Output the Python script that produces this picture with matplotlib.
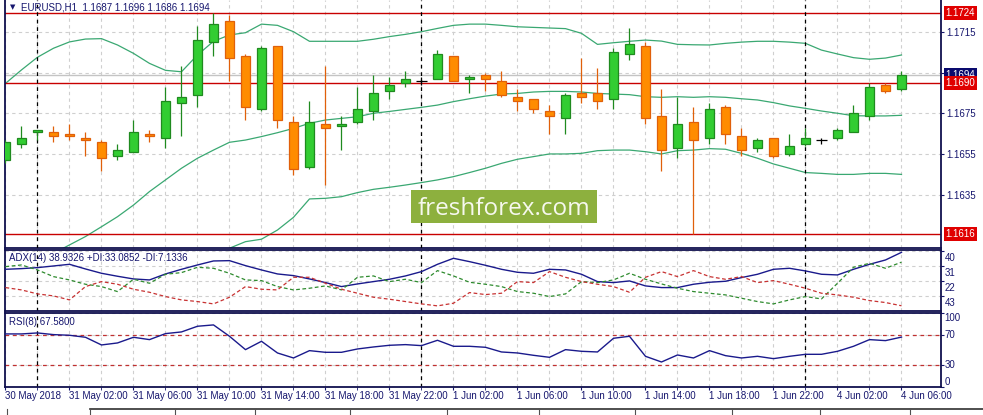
import matplotlib.pyplot as plt
import numpy as np
from matplotlib.patches import Rectangle
from matplotlib.lines import Line2D

plt.rcParams['font.family'] = ['Liberation Sans', 'DejaVu Sans']

symbol = "EURUSD"
timeframe = "H1"

# one label every 4 hourly bars, first bar is 30 May 22:00
time_labels = ["30 May 2018", "31 May 02:00", "31 May 06:00", "31 May 10:00", "31 May 14:00",
               "31 May 18:00", "31 May 22:00", "1 Jun 02:00", "1 Jun 06:00", "1 Jun 10:00",
               "1 Jun 14:00", "1 Jun 18:00", "1 Jun 22:00", "4 Jun 02:00", "4 Jun 06:00"]
day_start_bars = [2, 26, 50]

open_ = [1.1652, 1.1660, 1.1666, 1.1666, 1.1665, 1.1663, 1.1661, 1.1654, 1.1656, 1.1665,
         1.1663, 1.1680, 1.1684, 1.1710, 1.1720, 1.1703, 1.1677, 1.1708, 1.1671, 1.1649,
         1.1670, 1.1669, 1.1671, 1.1676, 1.1686, 1.1690, 1.1691, 1.1692, 1.1703, 1.1692,
         1.1694, 1.1691, 1.1683, 1.1682, 1.1676, 1.1673, 1.1685, 1.1685, 1.1682, 1.1704,
         1.1708, 1.1674, 1.1658, 1.1671, 1.1663, 1.1678, 1.1664, 1.1658, 1.1663, 1.1655,
         1.1660, 1.1662, 1.1663, 1.1666, 1.1674, 1.1689, 1.1687]
high = [1.1662, 1.1669, 1.1667, 1.1669, 1.1670, 1.1666, 1.1662, 1.1660, 1.1672, 1.1667,
        1.1688, 1.1698, 1.1718, 1.1724, 1.1723, 1.1704, 1.1708, 1.1708, 1.1674, 1.1681,
        1.1698, 1.1674, 1.1688, 1.1694, 1.1693, 1.1696, 1.1693, 1.1706, 1.1703, 1.1694,
        1.1695, 1.1696, 1.1687, 1.1682, 1.1679, 1.1685, 1.1702, 1.1697, 1.1707, 1.1717,
        1.1710, 1.1687, 1.1683, 1.1678, 1.1680, 1.1679, 1.1668, 1.1663, 1.1663, 1.1665,
        1.1668, 1.1663, 1.1668, 1.1679, 1.1690, 1.1690, 1.1696]
low = [1.1651, 1.1658, 1.1662, 1.1661, 1.1662, 1.1654, 1.1647, 1.1652, 1.1656, 1.1661,
       1.1658, 1.1664, 1.1678, 1.1703, 1.1691, 1.1672, 1.1676, 1.1668, 1.1645, 1.1648,
       1.1640, 1.1657, 1.1670, 1.1672, 1.1682, 1.1688, 1.1689, 1.1692, 1.1691, 1.1685,
       1.1686, 1.1683, 1.1676, 1.1675, 1.1665, 1.1665, 1.1680, 1.1677, 1.1677, 1.1701,
       1.1670, 1.1647, 1.1653, 1.1616, 1.1660, 1.1660, 1.1654, 1.1656, 1.1653, 1.1654,
       1.1659, 1.1660, 1.1662, 1.1666, 1.1672, 1.1685, 1.1686]
close = [1.1661, 1.1663, 1.1667, 1.1664, 1.1664, 1.1662, 1.1653, 1.1657, 1.1666, 1.1664,
         1.1681, 1.1683, 1.1711, 1.1719, 1.1702, 1.1678, 1.1707, 1.1672, 1.1648, 1.1671,
         1.1668, 1.1670, 1.1677, 1.1685, 1.1689, 1.1692, 1.1691, 1.1704, 1.1691, 1.1693,
         1.1692, 1.1684, 1.1681, 1.1677, 1.1674, 1.1684, 1.1683, 1.1681, 1.1705, 1.1709,
         1.1673, 1.1657, 1.1670, 1.1662, 1.1677, 1.1665, 1.1657, 1.1662, 1.1654, 1.1659,
         1.1663, 1.1662, 1.1667, 1.1675, 1.1688, 1.1686, 1.1694]

# Bollinger bands
bb_upper = [1.16897, 1.16963, 1.17025, 1.17069, 1.17100, 1.17114, 1.17116, 1.17085, 1.17044, 1.16995,
            1.16961, 1.16954, 1.17036, 1.17103, 1.17134, 1.17145, 1.17187, 1.17181, 1.17150, 1.17103,
            1.17103, 1.17103, 1.17103, 1.17113, 1.17126, 1.17137, 1.17150, 1.17166, 1.17181, 1.17187,
            1.17187, 1.17181, 1.17174, 1.17171, 1.17168, 1.17165, 1.17142, 1.17088, 1.17096, 1.17103,
            1.17109, 1.17104, 1.17088, 1.17086, 1.17085, 1.17093, 1.17099, 1.17103, 1.17103, 1.17099,
            1.17093, 1.17060, 1.17041, 1.17023, 1.17015, 1.17021, 1.17036]
bb_middle = [1.15944, 1.15985, 1.16025, 1.16066, 1.16107, 1.16148, 1.16196, 1.16245, 1.16302, 1.16368,
             1.16425, 1.16482, 1.16531, 1.16571, 1.16609, 1.16620, 1.16637, 1.16656, 1.16677, 1.16702,
             1.16718, 1.16726, 1.16734, 1.16751, 1.16760, 1.16770, 1.16780, 1.16791, 1.16808, 1.16822,
             1.16835, 1.16845, 1.16848, 1.16855, 1.16858, 1.16858, 1.16855, 1.16848, 1.16845, 1.16842,
             1.16832, 1.16829, 1.16832, 1.16829, 1.16832, 1.16829, 1.16822, 1.16816, 1.16803, 1.16787,
             1.16775, 1.16762, 1.16751, 1.16739, 1.16738, 1.16738, 1.16741]
bb_lower = [1.1499, 1.1501, 1.1503, 1.1506, 1.1511, 1.1518, 1.1528, 1.1540, 1.1556, 1.1574,
            1.1589, 1.1601, 1.1603, 1.1604, 1.16091, 1.16123, 1.16135, 1.16180, 1.16242, 1.16332,
            1.16335, 1.16343, 1.16363, 1.16379, 1.16389, 1.16400, 1.16412, 1.16425, 1.16441, 1.16461,
            1.16482, 1.16506, 1.16526, 1.16539, 1.16552, 1.16552, 1.16555, 1.16568, 1.16571, 1.16571,
            1.16563, 1.16552, 1.16568, 1.16571, 1.16578, 1.16575, 1.16555, 1.16531, 1.16503, 1.16482,
            1.16461, 1.16457, 1.16452, 1.16452, 1.16457, 1.16457, 1.16452]

levels = [1.1724, 1.1690, 1.1616]

adx = [28.84, 29.24, 29.83, 30.82, 31.81, 29.04, 26.47, 24.70, 23.10, 22.51,
       26.07, 28.84, 31.42, 33.80, 33.99, 31.02, 28.45, 26.07, 25.08, 23.10,
       20.93, 18.55, 20.13, 21.52, 22.91, 24.89, 27.46, 31.81, 35.38, 33.40,
       31.22, 28.84, 27.06, 26.47, 28.84, 28.45, 25.88, 21.52, 20.93, 21.92,
       18.95, 17.96, 17.96, 19.94, 21.12, 21.72, 23.90, 25.88, 28.84, 29.44,
       27.86, 25.88, 25.48, 28.84, 31.81, 34.39, 38.9326]
plus_di = [30.43, 31.42, 28.45, 24.49, 22.51, 19.94, 18.55, 15.58, 22.91, 20.53,
           25.88, 26.87, 30.03, 29.44, 26.47, 22.51, 22.11, 18.55, 16.57, 17.56,
           18.95, 16.57, 24.09, 24.89, 21.52, 22.91, 20.93, 28.05, 24.89, 21.12,
           19.94, 18.55, 15.58, 14.59, 12.61, 14.19, 21.52, 20.93, 22.51, 26.47,
           22.91, 20.13, 17.56, 15.58, 14.59, 13.60, 11.62, 9.64, 8.25, 10.63,
           12.61, 11.22, 20.53, 30.03, 32.41, 29.44, 33.0852]
minus_di = [17.96, 16.57, 14.19, 13.00, 10.63, 18.55, 21.52, 19.94, 16.97, 15.18,
            12.61, 10.63, 9.64, 8.25, 12.21, 18.55, 16.97, 16.57, 24.09, 24.09,
            20.53, 16.97, 14.59, 12.21, 11.03, 9.64, 8.25, 7.07, 8.65, 14.99,
            13.80, 14.59, 21.52, 20.93, 27.46, 24.09, 21.52, 19.94, 18.55, 15.18,
            24.09, 27.46, 24.49, 28.05, 24.49, 22.91, 24.49, 20.93, 22.11, 19.94,
            17.56, 14.59, 13.60, 12.21, 10.23, 9.05, 7.1336]
rsi = [71.90, 71.90, 73.25, 70.97, 70.07, 67.34, 56.87, 59.60, 67.34, 64.15,
       72.34, 74.62, 82.35, 84.17, 68.70, 50.50, 61.88, 45.95, 39.13, 49.14,
       46.86, 46.86, 51.41, 54.14, 56.42, 57.33, 55.96, 63.24, 55.05, 55.05,
       53.69, 47.32, 45.95, 42.77, 40.03, 50.50, 48.23, 47.32, 65.97, 68.70,
       41.40, 33.67, 43.22, 39.13, 49.14, 42.31, 39.13, 41.40, 38.22, 41.40,
       44.13, 44.13, 48.23, 55.05, 64.15, 62.78, 67.58]

price_ticks = [1.1715, 1.1695, 1.1675, 1.1655, 1.1635]
adx_ticks = [40, 31, 22, 13]
adx_tick_text = ["40", "31", "22", "43"]
rsi_ticks = [100, 70, 30, 0]

navy = '#16166e'
green, green_dk = '#32cd32', '#1f8a1f'
orange, orange_dk = '#ff8c00', '#e0600a'
band_col = '#3aa872'
red = '#c80000'
grid_kw = dict(color='#cfcfcf', linestyle=(0, (3, 3)), linewidth=0.8)

W, H = 983, 415
fig = plt.figure(figsize=(W / 100, H / 100), dpi=100)


def rect(left, top, right, bottom):
    return [left / W, 1 - bottom / H, (right - left) / W, (bottom - top) / H]


ax = fig.add_axes(rect(5, 0, 940.7, 248))
ax_adx = fig.add_axes(rect(5, 249.7, 940.7, 310.7), sharex=ax)
ax_rsi = fig.add_axes(rect(5, 313.3, 940.7, 386.7), sharex=ax)

o, h, l, c = (np.array(v) for v in (open_, high, low, close))
x = np.arange(len(c))
up, down, doji = c > o, c < o, c == o

# ---- main price panel
ax.plot(x, bb_upper, color=band_col, lw=0.9, zorder=2)
ax.plot(x, bb_middle, color=band_col, lw=0.9, zorder=2)
ax.plot(x, bb_lower, color=band_col, lw=0.9, zorder=2)
for lv in levels:
    ax.axhline(lv, color=red, lw=1.0, zorder=2)
ax.axhline(c[-1], color='#c4c4c4', lw=1.0, zorder=1.5)
for d in day_start_bars:
    ax.axvline(d, color='black', lw=0.9, linestyle=(0, (3, 3)), zorder=3)

ax.vlines(x[up], l[up], h[up], color=green_dk, lw=0.9, zorder=4)
ax.bar(x[up], (c - o)[up], bottom=o[up], width=0.6, color=green, edgecolor=green_dk, lw=0.9, zorder=5)
ax.vlines(x[down], l[down], h[down], color=orange_dk, lw=0.9, zorder=4)
ax.bar(x[down], (o - c)[down], bottom=c[down], width=0.6, color=orange, edgecolor=orange_dk, lw=0.9, zorder=5)
ax.vlines(x[doji], l[doji], h[doji], color='black', lw=0.9, zorder=5)
ax.hlines(o[doji], x[doji] - 0.32, x[doji] + 0.32, color='black', lw=0.9, zorder=5)

ax.set_ylim(1.16092, 1.17305)
ax.set_xlim(-0.03, 58.45)
ax.yaxis.tick_right()
ax.set_yticks(price_ticks, [f"{p:.4f}" if p != 1.1695 else "" for p in price_ticks])
ax.tick_params(axis='y', direction='out', length=2.2, pad=2, labelsize=7, colors=navy)
ax.tick_params(axis='x', which='both', length=0, labelbottom=False)
ax.grid(True, axis='y', **grid_kw)


def price_box(price, face, z):
    ax.annotate(f"{price:.4f}", xy=(1, price), xycoords=('axes fraction', 'data'),
                xytext=(5, 0), textcoords='offset pixels', ha='left', va='center',
                fontsize=7, color='white', zorder=z, annotation_clip=False,
                bbox=dict(boxstyle='square,pad=0.2', fc=face, ec='none'))


price_box(c[-1], '#0a0a6e', 20)
for lv in levels:
    price_box(lv, '#e00000', 21)

# ---- ADX panel
ax_adx.plot(x, adx, color='#1a1a8c', lw=1.0, zorder=3)
ax_adx.plot(x, plus_di, color='#2e8b2e', lw=0.9, linestyle=(0, (3, 2)), zorder=3)
ax_adx.plot(x, minus_di, color='#c83232', lw=0.9, linestyle=(0, (3, 2)), zorder=3)
ax_adx.set_ylim(4.2, 40.5)
ax_adx.yaxis.tick_right()
ax_adx.set_yticks(adx_ticks)
ax_adx.tick_params(axis='y', direction='out', length=2.2, labelright=False, colors=navy)
ax_adx.tick_params(axis='x', which='both', length=0, labelbottom=False)
ax_adx.grid(True, axis='y', **grid_kw)
for val, txt in zip(adx_ticks, adx_tick_text):
    ax_adx.annotate(txt, xy=(1, val), xycoords=('axes fraction', 'data'), xytext=(4, -7),
                    textcoords='offset pixels', ha='left', va='center', fontsize=7,
                    color=navy, annotation_clip=False)

# ---- RSI panel
ax_rsi.plot(x, rsi, color='#1a1a8c', lw=1.0, zorder=3)
for lv in (70, 30):
    ax_rsi.axhline(lv, color='#c03030', lw=0.9, linestyle=(0, (3, 3)), zorder=2)
ax_rsi.set_ylim(0, 100)
ax_rsi.yaxis.tick_right()
ax_rsi.set_yticks(rsi_ticks)
ax_rsi.tick_params(axis='y', direction='out', length=2.2, labelright=False, colors=navy)
ax_rsi.grid(True, axis='y', **grid_kw)
for val in rsi_ticks:
    va = 'top' if val == 100 else ('bottom' if val == 0 else 'center')
    ax_rsi.annotate(str(val), xy=(1, val), xycoords=('axes fraction', 'data'), xytext=(4, 0),
                    textcoords='offset pixels', ha='left', va=va, fontsize=7,
                    color=navy, annotation_clip=False)

ax_rsi.set_xticks(x[::4], time_labels, ha='left')
ax_rsi.set_xticks(x[2::4], minor=True)
ax_rsi.tick_params(axis='x', which='both', direction='out', length=2.2, pad=1,
                   labelsize=7, colors=navy)

for a in (ax, ax_adx, ax_rsi):
    a.set_facecolor('white')
    a.set_axisbelow(True)
    a.grid(True, axis='x', which='both', **grid_kw)
    for s in a.spines.values():
        s.set_color('#10104e')
        s.set_linewidth(1.3)
    if a is not ax:
        for d in day_start_bars:
            a.axvline(d, color='black', lw=0.9, linestyle=(0, (3, 3)), zorder=2)
ax.spines['top'].set_visible(False)

# ---- header texts
fig.text(12.5 / W, 1 - 7 / H, '\u25bc', fontsize=5, color=navy, ha='center', va='center',
         family=['DejaVu Sans'])
fig.text(20.7 / W, 1 - 7.5 / H,
         f"{symbol},{timeframe}  {o[-1]:.4f} {h[-1]:.4f} {l[-1]:.4f} {c[-1]:.4f}",
         fontsize=7, color=navy, ha='left', va='center')
fig.text(9.3 / W, 1 - 258.3 / H,
         f"ADX(14) {adx[-1]:.4f} +DI:{plus_di[-1]:.4f} -DI:{minus_di[-1]:.4f}",
         fontsize=7, color=navy, ha='left', va='center')
fig.text(9.3 / W, 1 - 322 / H, f"RSI(8) {rsi[-1]:.4f}", fontsize=7, color=navy,
         ha='left', va='center')

# ---- watermark
fig.add_artist(Rectangle((411 / W, 1 - 223.3 / H), 185.7 / W, 33.3 / H,
                         transform=fig.transFigure, fc='#8db03e', ec='none', zorder=10))
fig.text(503.8 / W, 1 - 215.3 / H, 'freshforex.com', ha='center', va='baseline',
         fontsize=17.5, family=['Open Sans', 'DejaVu Sans'], color='#f6f8ee', zorder=11)

# ---- tab strip at the bottom of the window
fig.add_artist(Line2D([90 / W, 1], [1 - 409 / H, 1 - 409 / H], transform=fig.transFigure,
                      color='#303030', lw=1.2))
for tx in (7, 90, 175, 255, 350, 447, 539, 635, 732, 820, 910):
    fig.add_artist(Line2D([tx / W, tx / W], [1 - 409 / H, 0], transform=fig.transFigure,
                          color='#505050', lw=0.8))

fig.savefig('out.png', dpi=100, facecolor='white')
